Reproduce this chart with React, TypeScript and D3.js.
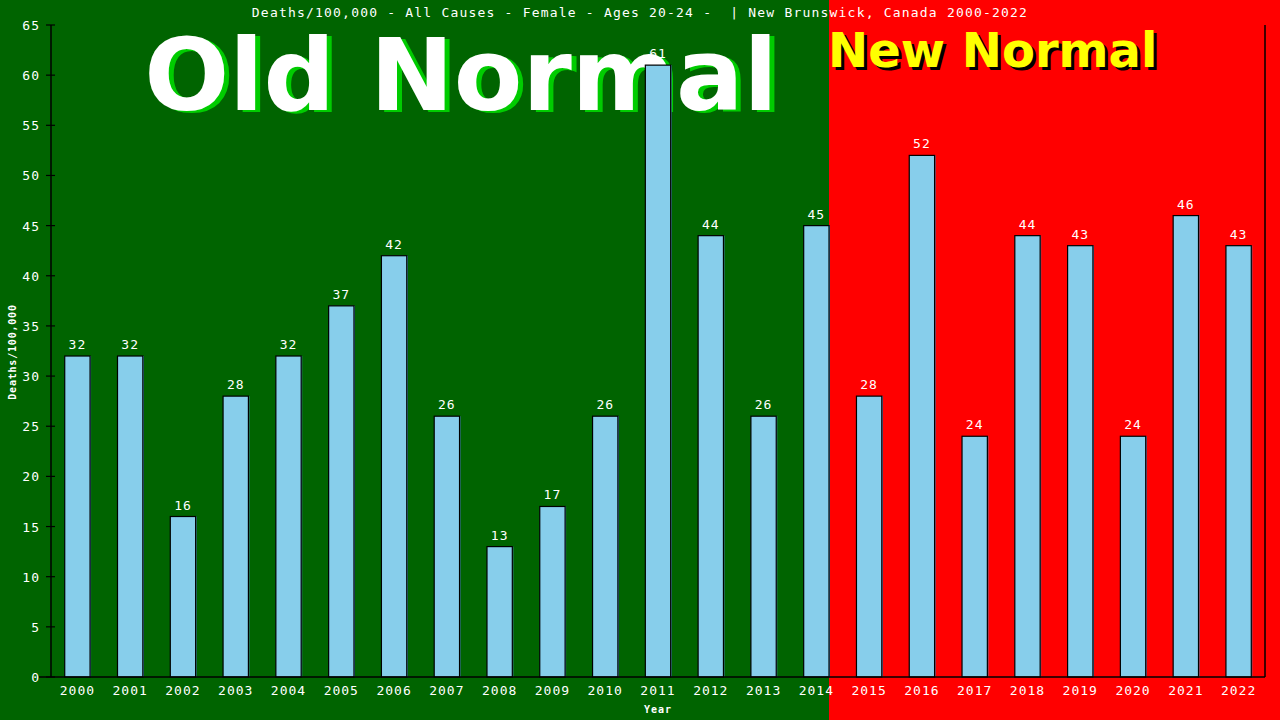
import React from "react";
import * as d3 from "d3";

const years = ["2000","2001","2002","2003","2004","2005","2006","2007","2008","2009","2010","2011","2012","2013","2014","2015","2016","2017","2018","2019","2020","2021","2022"];
const values = [32,32,16,28,32,37,42,26,13,17,26,61,44,26,45,28,52,24,44,43,24,46,43];
const yTicks = [0,5,10,15,20,25,30,35,40,45,50,55,60,65];
const title = "Deaths/100,000 - All Causes - Female - Ages 20-24 -  | New Brunswick, Canada 2000-2022";
const splitYear = "2014";

const W = 1280, H = 720;
const left = 51, right = 1265, top = 25, bottom = 677;
const mono = "'DejaVu Sans Mono', monospace";

export default function App() {
  const x = d3.scaleBand<string>().domain(years).range([left, right]).paddingInner(0.52).paddingOuter(0.26);
  const y = d3.scaleLinear().domain([0, 65]).range([bottom, top]);
  const splitX = (x(splitYear) as number) + x.bandwidth();
  return (
    <svg width={W} height={H} style={{ position: "absolute", left: 0, top: 0 }}>
      <rect x={0} y={0} width={splitX} height={H} fill="#006400" />
      <rect x={splitX} y={0} width={W - splitX} height={H} fill="#ff0000" />
      <text x={640} y={17} fontFamily={mono} fontSize={13} letterSpacing={1.2} fill="#fff" textAnchor="middle" style={{ whiteSpace: "pre" }} xmlSpace="preserve">{title}</text>
      <g fontFamily="'DejaVu Sans', sans-serif" fontWeight="bold">
        <text x={466} y={112} fontSize={100} textAnchor="middle" fill="#00cc00">Old Normal</text>
        <text x={461} y={110} fontSize={100} textAnchor="middle" fill="#ffffff">Old Normal</text>
        <text x={831} y={70} fontSize={48} fill="#000000">New Normal</text>
        <text x={828} y={67} fontSize={48} fill="#ffff00">New Normal</text>
      </g>
      {years.map((yr, i) => {
        const bx = x(yr) as number;
        const by = y(values[i]);
        return (
          <g key={yr}>
            <rect x={bx + 1} y={by} width={x.bandwidth()} height={bottom - by} fill="#4682b4" />
            <rect x={bx} y={by} width={x.bandwidth()} height={bottom - by} fill="#87ceeb" stroke="#000" strokeWidth={1.2} />
            <text x={bx + x.bandwidth() / 2} y={by - 7} fontFamily={mono} fontSize={13} letterSpacing={1} fill="#fff" textAnchor="middle">{values[i]}</text>
            <text x={bx + x.bandwidth() / 2} y={695} fontFamily={mono} fontSize={13} letterSpacing={1} fill="#fff" textAnchor="middle">{yr}</text>
          </g>
        );
      })}
      <line x1={left} y1={top} x2={left} y2={bottom} stroke="#000" strokeWidth={1.5} />
      <line x1={left - 12} y1={bottom} x2={right} y2={bottom} stroke="#000" strokeWidth={1.5} />
      <line x1={right} y1={top} x2={right} y2={bottom} stroke="#000" strokeWidth={1.5} />
      {yTicks.map((t) => (
        <g key={t}>
          <line x1={left - 5} y1={y(t)} x2={left + 4} y2={y(t)} stroke="#000" strokeWidth={1.2} />
          <text x={40} y={y(t) + 5} fontFamily={mono} fontSize={13} letterSpacing={1} fill="#fff" textAnchor="end">{t}</text>
        </g>
      ))}
      <text transform="translate(16,352) rotate(-90)" fontFamily={mono} fontSize={10} fontWeight="bold" letterSpacing={0.8} fill="#fff" textAnchor="middle">Deaths/100,000</text>
      <text x={658} y={713} fontFamily={mono} fontSize={10} fontWeight="bold" letterSpacing={1} fill="#fff" textAnchor="middle">Year</text>
    </svg>
  );
}
